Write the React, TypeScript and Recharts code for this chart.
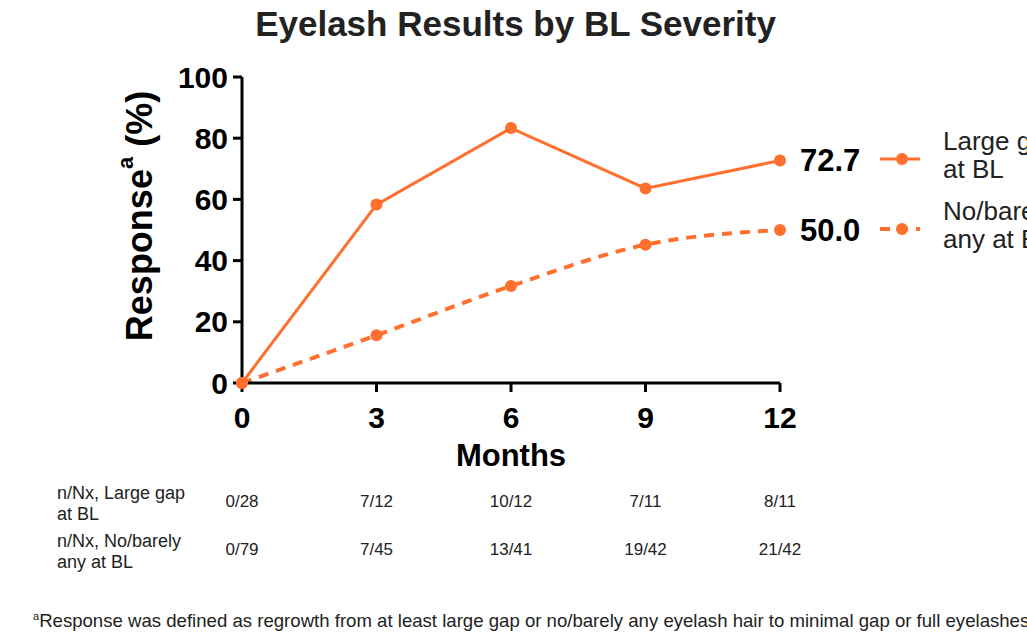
import React from 'react'
import { LineChart, Line, XAxis, YAxis, Legend, Label, LabelList } from 'recharts'

const months = [0, 3, 6, 9, 12]
const largeGap = [0, 58.3, 83.3, 63.6, 72.7]
const noBarely = [0, 15.6, 31.7, 45.2, 50.0]
const largeGapN = ['0/28', '7/12', '10/12', '7/11', '8/11']
const noBarelyN = ['0/79', '7/45', '13/41', '19/42', '21/42']
const yTicks = [0, 20, 40, 60, 80, 100]
const seriesNames = [
  ['Large gap', 'at BL'],
  ['No/barely', 'any at BL'],
]
const tableLabels = [
  ['n/Nx, Large gap', 'at BL'],
  ['n/Nx, No/barely', 'any  at BL'],
]

const ORANGE = '#FF6F2E'
const SANS = '"Liberation Sans", Arial, sans-serif'

const data = months.map((m, i) => ({
  month: m,
  large: largeGap[i],
  none: noBarely[i],
}))

// month label plus the n/N table values under each tick
const MonthTick = (props: any) => {
  const { x, y, index } = props
  return (
    <g>
      <text x={x} y={y + 34} textAnchor="middle" fontFamily={SANS} fontWeight="bold" fontSize={30} fill="#000">
        {months[index]}
      </text>
      <text x={x} y={y + 113} textAnchor="middle" fontFamily={SANS} fontSize={17} fill="#222">
        {largeGapN[index]}
      </text>
      <text x={x} y={y + 161} textAnchor="middle" fontFamily={SANS} fontSize={17} fill="#222">
        {noBarelyN[index]}
      </text>
    </g>
  )
}

const TableRowLabels = (props: any) => {
  const vb = props.viewBox || {}
  const x0 = vb.x - 185
  const y0 = vb.y
  return (
    <g fontFamily={SANS} fontSize={18} fill="#222">
      <text x={x0} y={y0 + 116}>{tableLabels[0][0]}</text>
      <text x={x0} y={y0 + 137}>{tableLabels[0][1]}</text>
      <text x={x0} y={y0 + 164}>{tableLabels[1][0]}</text>
      <text x={x0} y={y0 + 185}>{tableLabels[1][1]}</text>
      <text x={vb.x + vb.width / 2} y={y0 + 83} textAnchor="middle" fontFamily={SANS} fontWeight="bold" fontSize={31} fill="#000">
        Months
      </text>
    </g>
  )
}

const YTitle = (props: any) => {
  const vb = props.viewBox || {}
  const cx = 142
  const cy = vb.y + vb.height / 2 - 14
  return (
    <text
      x={cx}
      y={cy}
      transform={`rotate(-90 ${cx} ${cy})`}
      textAnchor="middle"
      dominantBaseline="middle"
      fontFamily={SANS}
      fontWeight="bold"
      fontSize={36}
      fill="#000"
    >
      Response
      <tspan fontSize={22} dy={-15}>a</tspan>
      <tspan dy={15}> (%)</tspan>
    </text>
  )
}

const EndValue = (props: any) => {
  const { x, y, value, index } = props
  if (index !== months.length - 1) return null
  return (
    <text x={x + 20} y={y} dominantBaseline="central" fontFamily={SANS} fontWeight="bold" fontSize={31} fill="#000">
      {Number(value).toFixed(1)}
    </text>
  )
}

const LegendBox = () => (
  <div style={{ fontFamily: SANS, fontSize: 26, color: '#222', lineHeight: '28px' }}>
    {seriesNames.map((name, i) => (
      <div key={i} style={{ display: 'flex', alignItems: 'center', height: 70 }}>
        <svg width={63} height={14} style={{ flex: 'none', marginTop: 8 }}>
          <line
            x1={0}
            y1={7}
            x2={40}
            y2={7}
            stroke={ORANGE}
            strokeWidth={i === 0 ? 3 : 4}
            strokeDasharray={i === 0 ? undefined : '10 8'}
          />
          <circle cx={22} cy={7} r={6} fill={ORANGE} />
        </svg>
        <div style={{ whiteSpace: 'nowrap' }}>
          {name[0]}
          <br />
          {name[1]}
        </div>
      </div>
    ))}
  </div>
)

export default function App() {
  return (
    <div style={{ position: 'absolute', left: 0, top: 0, width: 1027, height: 634, overflow: 'hidden', background: '#fff' }}>
      <div
        style={{
          position: 'absolute',
          left: 0,
          width: 1027,
          top: 4,
          textAlign: 'center',
          fontFamily: SANS,
          fontWeight: 'bold',
          fontSize: 35,
          color: '#222',
          paddingLeft: 2,
        }}
      >
        Eyelash Results by BL Severity
      </div>
      <LineChart width={1027} height={634} data={data} margin={{ top: 77, right: 87, bottom: 161, left: 0 }}>
        <XAxis
          dataKey="month"
          type="number"
          domain={[0, 12]}
          ticks={months}
          axisLine={{ stroke: '#000', strokeWidth: 3 }}
          tickLine={{ stroke: '#000', strokeWidth: 3 }}
          tickSize={9}
          tickMargin={2}
          height={90}
          tick={<MonthTick />}
          interval={0}
        >
          <Label content={<TableRowLabels />} />
        </XAxis>
        <YAxis
          type="number"
          domain={[0, 100]}
          ticks={yTicks}
          width={242}
          axisLine={{ stroke: '#000', strokeWidth: 3 }}
          tickLine={{ stroke: '#000', strokeWidth: 3 }}
          tickSize={9}
          tickMargin={5}
          tick={{ fontFamily: SANS, fontWeight: 'bold', fontSize: 30, fill: '#000' }}
          interval={0}
        >
          <Label content={<YTitle />} />
        </YAxis>
        <Legend
          layout="horizontal"
          verticalAlign="middle"
          align="right"
          content={<LegendBox />}
          wrapperStyle={{ left: 880, top: 120, width: 160, right: 'auto', bottom: 'auto' }}
        />
        <Line
          dataKey="large"
          stroke={ORANGE}
          strokeWidth={3}
          dot={{ r: 6, fill: ORANGE, stroke: ORANGE, strokeWidth: 0 }}
          isAnimationActive={false}
        >
          <LabelList dataKey="large" content={<EndValue />} />
        </Line>
        <Line
          dataKey="none"
          type="monotone"
          stroke={ORANGE}
          strokeWidth={4}
          strokeDasharray="10 8"
          dot={{ r: 6, fill: ORANGE, stroke: ORANGE, strokeWidth: 0 }}
          isAnimationActive={false}
        >
          <LabelList dataKey="none" content={<EndValue />} />
        </Line>
      </LineChart>
      <div
        style={{
          position: 'absolute',
          left: 33,
          top: 610,
          fontFamily: SANS,
          fontSize: 18.6,
          color: '#222',
          whiteSpace: 'nowrap',
        }}
      >
        <sup style={{ fontSize: 11 }}>a</sup>Response was defined as regrowth from at least large gap or no/barely any eyelash hair to minimal gap or full eyelashes.
      </div>
    </div>
  )
}
